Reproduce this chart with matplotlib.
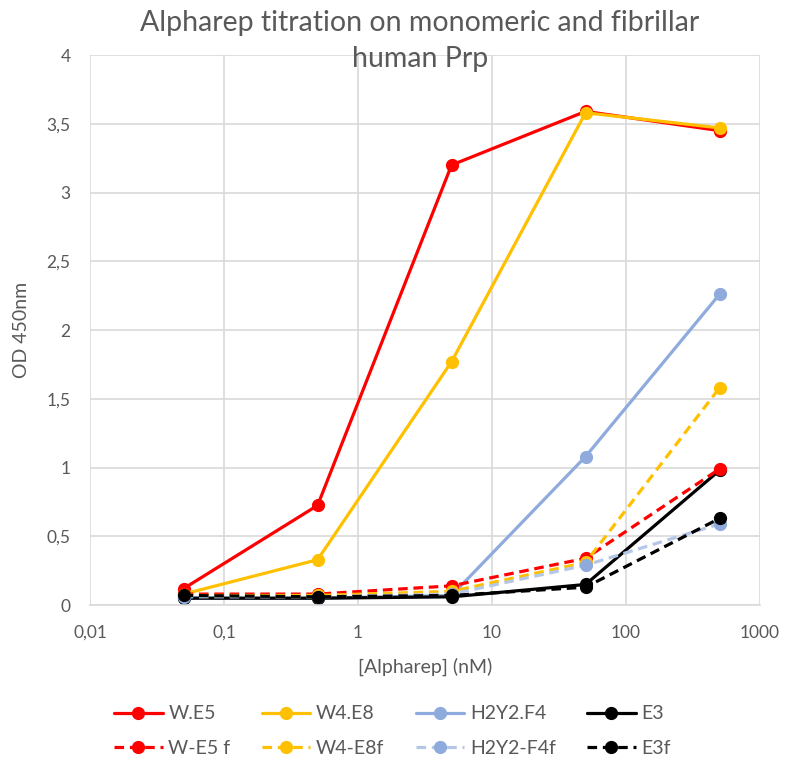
import matplotlib
matplotlib.use("Agg")
import matplotlib.pyplot as plt
from matplotlib.ticker import FixedLocator, FixedFormatter, NullLocator

plt.rcParams["font.family"] = ["Lato", "DejaVu Sans"]

conc = [0.05, 0.5, 5, 50, 500]

labels = ["W.E5", "W4.E8", "H2Y2.F4", "E3", "W-E5 f", "W4-E8f", "H2Y2-F4f", "E3f"]

w_e5 = [0.12, 0.725, 3.2, 3.59, 3.45]
w4_e8 = [0.08, 0.33, 1.77, 3.58, 3.47]
h2y2_f4 = [0.05, 0.05, 0.07, 1.08, 2.26]
e3 = [0.05, 0.05, 0.06, 0.15, 0.98]
w_e5_f = [0.08, 0.08, 0.14, 0.34, 0.99]
w4_e8f = [0.07, 0.07, 0.10, 0.31, 1.58]
h2y2_f4f = [0.06, 0.06, 0.08, 0.29, 0.59]
e3f = [0.07, 0.06, 0.07, 0.13, 0.63]

series = [w_e5, w4_e8, h2y2_f4, e3, w_e5_f, w4_e8f, h2y2_f4f, e3f]
colors = ["#FF0000", "#FFC000", "#8FAADC", "#000000",
          "#FF0000", "#FFC000", "#B4C7E7", "#000000"]
marker_colors = ["#FF0000", "#FFC000", "#8FAADC", "#000000",
                 "#FF0000", "#FFC000", "#8FAADC", "#000000"]
dashed = [False, False, False, False, True, True, True, True]

x_ticks = [0.01, 0.1, 1, 10, 100, 1000]
x_ticklabels = ["0,01", "0,1", "1", "10", "100", "1000"]
y_ticks = [0, 0.5, 1, 1.5, 2, 2.5, 3, 3.5, 4]
y_ticklabels = ["0", "0,5", "1", "1,5", "2", "2,5", "3", "3,5", "4"]

text_color = "#595959"

fig = plt.figure(figsize=(7.85, 7.64), dpi=100)
ax = fig.add_axes([0.1146, 0.208, 0.8534, 0.72])

handles = []
for vals, c, mc, d, lab in zip(series, colors, marker_colors, dashed, labels):
    ln, = ax.plot(conc, vals, color=c, lw=2.3, marker="o", markersize=8.5,
                  markerfacecolor=mc, markeredgecolor=mc, label=lab,
                  solid_capstyle="round")
    if d:
        ln.set_dashes((3, 1.8))
    handles.append(ln)

ax.set_xscale("log")
ax.set_xlim(0.01, 1000)
ax.set_ylim(0, 4)
ax.xaxis.set_major_locator(FixedLocator(x_ticks))
ax.xaxis.set_major_formatter(FixedFormatter(x_ticklabels))
ax.xaxis.set_minor_locator(NullLocator())
ax.set_yticks(y_ticks)
ax.set_yticklabels(y_ticklabels)

ax.grid(True, color="#D9D9D9", lw=1.2)
ax.set_axisbelow(True)
for s in ["top", "right", "left"]:
    ax.spines[s].set_visible(False)
ax.spines["bottom"].set_color("#D9D9D9")
ax.spines["bottom"].set_linewidth(1.2)
ax.tick_params(length=0, labelsize=12.5, colors=text_color, pad=14)

ax.set_xlabel("[Alpharep] (nM)", fontsize=14, color=text_color, labelpad=12)
ax.set_ylabel("OD 450nm", fontsize=14, color=text_color, labelpad=12)

fig.text(0.535, 0.987, "Alpharep titration on monomeric and fibrillar\nhuman Prp",
         ha="center", va="top", fontsize=20.5, color=text_color, linespacing=1.5)

# legend fills column-wise, so interleave the two rows
order = [0, 4, 1, 5, 2, 6, 3, 7]
fig.legend([handles[i] for i in order], [labels[i] for i in order],
           loc="center", bbox_to_anchor=(0.5, 0.043), ncol=4, frameon=False,
           fontsize=14, labelcolor=text_color, handlelength=2.5,
           handletextpad=0.3, columnspacing=1.6, labelspacing=0.9)

fig.savefig("out.png", dpi=100)
